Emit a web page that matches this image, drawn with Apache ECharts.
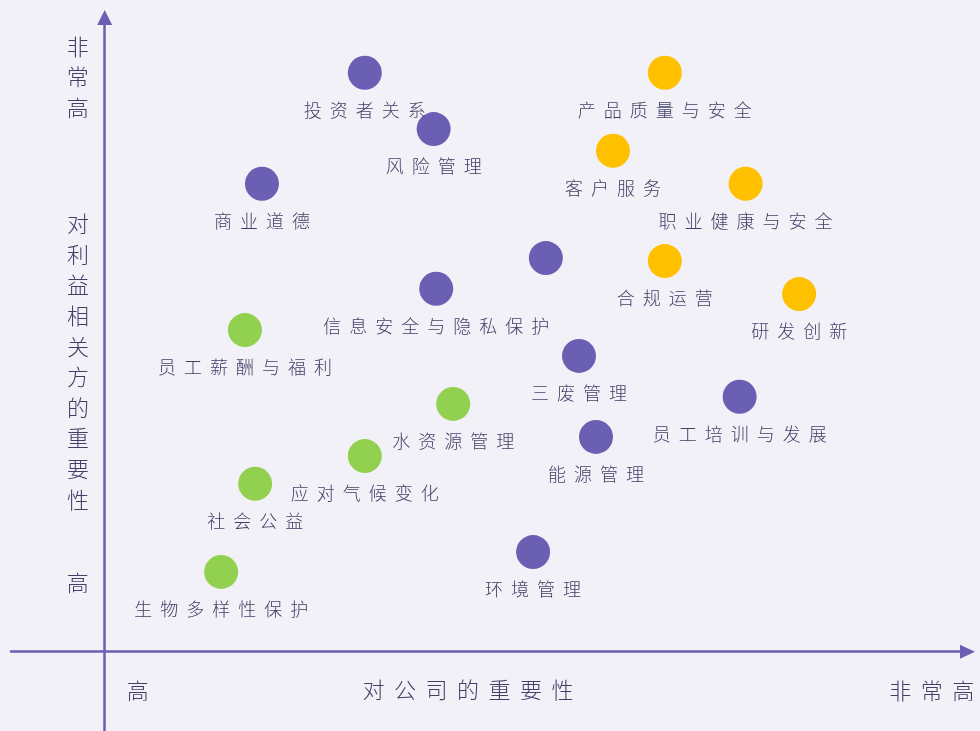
<!DOCTYPE html>
<html>
<head>
<meta charset="utf-8">
<script src="https://cdn.jsdelivr.net/npm/echarts@6/dist/echarts.min.js"></script>
<style>
html,body{margin:0;padding:0;background:#f2f1f8;}
#c{width:980px;height:731px;}
</style>
</head>
<body>
<div id="c"></div>
<script>
// ---- data ----
const purpleNames = ['投资者关系','风险管理','商业道德','','信息安全与隐私保护','三废管理','员工培训与发展','能源管理','环境管理'];
const purpleX = [3.06,3.87,1.85,5.19,3.90,5.58,7.47,5.78,5.04];
const purpleY = [9.65,8.71,7.80,6.56,6.05,4.93,4.25,3.58,1.66];

const yellowNames = ['产品质量与安全','客户服务','职业健康与安全','合规运营','研发创新'];
const yellowX = [6.59,5.98,7.54,6.59,8.17];
const yellowY = [9.65,8.35,7.80,6.51,5.96];

const greenNames = ['员工薪酬与福利','水资源管理','应对气候变化','社会公益','生物多样性保护'];
const greenX = [1.65,4.10,3.06,1.77,1.37];
const greenY = [5.36,4.13,3.26,2.80,1.33];

const xTickValues = [0.39, 9.73];
const xTickLabels = ['高','非常高'];
const yTickValues = [1.145, 9.58];
const yTickLabels = ['高','非常高'];
const xAxisName = '对公司的重要性';
const yAxisName = '对利益相关方的重要性';

// ---- styles ----
const FONT = '"Noto Sans CJK SC", "Noto Sans", sans-serif';
const TEXT = '#423f66';
const LINE = '#6a5fb3';

function spaced(str, key) {
  return str.split('').map(ch => '{' + key + '|' + ch + '}').join('');
}
function build(names, xs, ys) {
  return names.map((n, i) => ({ name: n, value: [xs[i], ys[i]] }));
}
function scatter(names, xs, ys, color) {
  return {
    type: 'scatter',
    symbolSize: 34,
    itemStyle: { color: color, opacity: 1 },
    data: build(names, xs, ys),
    label: {
      show: true,
      position: 'bottom',
      distance: 10,
      formatter: p => p.name ? spaced(p.name, 't') : '',
      rich: {
        t: { width: 26, align: 'center', fontSize: 18, lineHeight: 20, color: TEXT, fontFamily: FONT, fontWeight: 300 }
      }
    },
    emphasis: { disabled: true },
    silent: true
  };
}
const bigRich = { s: { width: 31.5, align: 'center', fontSize: 22, lineHeight: 24, fill: TEXT, fontFamily: FONT, fontWeight: 300 } };

const chart = echarts.init(document.getElementById('c'), null, { renderer: 'canvas' });
chart.setOption({
  backgroundColor: '#f2f1f8',
  animation: false,
  grid: { left: 11, right: 12.5, top: 17.5, bottom: 0, containLabel: false, outerBoundsMode: 'none' },
  xAxis: {
    type: 'value',
    min: -(104.7 - 11) / 85,
    max: (967.5 - 104.7) / 85,
    splitLine: { show: false },
    axisTick: { show: false },
    axisLabel: { show: false },
    axisLine: { show: true, onZero: true, symbol: ['none', 'triangle'], symbolSize: [14, 15],
      lineStyle: { color: LINE, width: 2.5 } }
  },
  yAxis: {
    type: 'value',
    min: -(731 - 651.7) / 60,
    max: (651.7 - 17.5) / 60,
    splitLine: { show: false },
    axisTick: { show: false },
    axisLabel: { show: false },
    axisLine: { show: true, onZero: true, symbol: ['none', 'triangle'], symbolSize: [15, 15],
      lineStyle: { color: LINE, width: 2.5 } }
  },
  series: [
    scatter(purpleNames, purpleX, purpleY, '#6a5fb3'),
    scatter(yellowNames, yellowX, yellowY, '#ffc000'),
    scatter(greenNames, greenX, greenY, '#92d050')
  ]
});

// tick labels placed through the axes' scales
const graphics = [];
xTickValues.forEach((v, i) => {
  const px = chart.convertToPixel({ gridIndex: 0 }, [v, 0]);
  graphics.push({
    type: 'text', x: px[0], y: px[1] + 38.5,
    style: { text: spaced(xTickLabels[i], 's'), align: 'center', verticalAlign: 'middle', rich: bigRich }
  });
});
yTickValues.forEach((v, i) => {
  const px = chart.convertToPixel({ gridIndex: 0 }, [0, v]);
  graphics.push({
    type: 'text', x: px[0] - 27, y: px[1],
    style: { text: yTickLabels[i].split('').join('\n'), align: 'center', verticalAlign: 'middle',
      fontSize: 22, lineHeight: 30.5, fill: TEXT, fontFamily: FONT, fontWeight: 300 }
  });
});
graphics.push({
  type: 'text', x: 468, y: 690,
  style: { text: spaced(xAxisName, 's'), align: 'center', verticalAlign: 'middle', rich: bigRich }
});
graphics.push({
  type: 'text', x: 78, y: 361.5,
  style: { text: yAxisName.split('').join('\n'), align: 'center', verticalAlign: 'middle',
    fontSize: 22, lineHeight: 30.6, fill: TEXT, fontFamily: FONT, fontWeight: 300 }
});
chart.setOption({ graphic: graphics });
</script>
</body>
</html>
